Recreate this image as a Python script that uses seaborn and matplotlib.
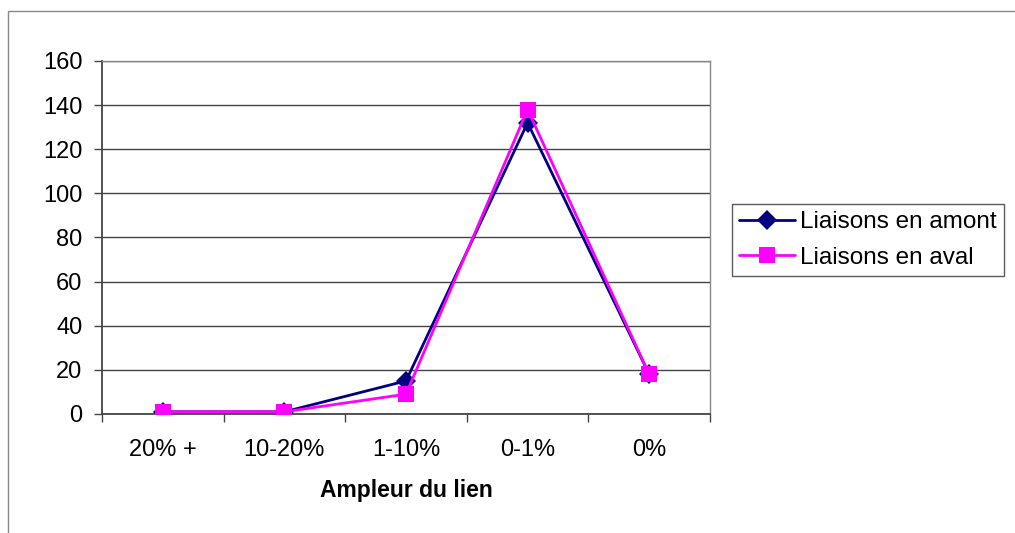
import matplotlib
matplotlib.use("Agg")
import matplotlib.pyplot as plt
import matplotlib.patches as mpatches
import seaborn as sns
import pandas as pd

categories = ["20% +", "10-20%", "1-10%", "0-1%", "0%"]
amont = [1, 1, 15, 132, 18]
aval = [1, 1, 9, 138, 18]
series_names = ["Liaisons en amont", "Liaisons en aval"]

data = pd.DataFrame({
    "Ampleur": categories * 2,
    "Nombre": amont + aval,
    "Serie": [series_names[0]] * 5 + [series_names[1]] * 5,
})

sns.set_style("white")
plt.rcParams["font.family"] = ["Liberation Sans", "DejaVu Sans"]
plt.rcParams["text.color"] = "black"
plt.rcParams["axes.labelcolor"] = "black"
plt.rcParams["xtick.labelcolor"] = "black"
plt.rcParams["ytick.labelcolor"] = "black"

fig = plt.figure(figsize=(10.15, 5.33), dpi=100)
ax = fig.add_axes([102 / 1015, 1 - 414 / 533, 608 / 1015, 353 / 533])

sns.lineplot(data=data, x="Ampleur", y="Nombre", hue="Serie", style="Serie",
             markers={series_names[0]: "D", series_names[1]: "s"}, dashes=False,
             palette={series_names[0]: "#000080", series_names[1]: "#FF00FF"},
             markersize=10, markeredgewidth=0, linewidth=2, sort=False, ax=ax)

# squares on top, a bit bigger than the diamonds
for line in ax.lines:
    if line.get_marker() == "s":
        line.set_zorder(4)
        line.set_markersize(11.5)
    elif line.get_marker() == "D":
        line.set_zorder(3)
        line.set_markersize(10)

ax.set_xlim(-0.5, 4.5)
ax.set_ylim(0, 160)
ax.set_yticks(range(0, 161, 20))
ax.yaxis.grid(True, color="#444444", linewidth=1)
ax.set_axisbelow(True)

ax.set_xticks([i - 0.5 for i in range(6)])
ax.set_xticklabels([])
ax.set_xticks(range(5), minor=True)
ax.set_xticklabels(categories, minor=True)
ax.tick_params(axis="x", which="major", direction="out", length=6, color="#444444", width=1, bottom=True)
ax.tick_params(axis="x", which="minor", length=0, pad=18, labelsize=17)
ax.tick_params(axis="y", direction="out", length=6, color="#444444", width=1, left=True, labelsize=17, pad=8)

for side in ["left", "bottom"]:
    ax.spines[side].set_color("#444444")
    ax.spines[side].set_linewidth(1.3)
for side in ["top", "right"]:
    ax.spines[side].set_color("#888888")
    ax.spines[side].set_linewidth(1)

ax.set_xlabel("Ampleur du lien", fontsize=16.5, fontweight="bold", labelpad=13)
ax.set_ylabel("")

handles, labels = ax.get_legend_handles_labels()
for h in handles:
    if h.get_marker() == "s":
        h.set_markersize(11.5)
    elif h.get_marker() == "D":
        h.set_markersize(10)
leg = ax.legend(handles, labels, loc="center left", bbox_to_anchor=(732 / 1015, 1 - 240 / 533),
                bbox_transform=fig.transFigure, frameon=True, fancybox=False,
                fontsize=17.5, handlelength=2.3, handletextpad=0.2,
                borderpad=0.3, labelspacing=0.55, borderaxespad=0)
leg.get_frame().set_edgecolor("#333333")
leg.get_frame().set_linewidth(1)

fig.patches.append(mpatches.Rectangle((8 / 1015, -0.05), 1.2, 1 - 11 / 533 + 0.05,
                                      transform=fig.transFigure, fill=False,
                                      edgecolor="#888888", linewidth=1))

fig.savefig("out.png", dpi=100)
